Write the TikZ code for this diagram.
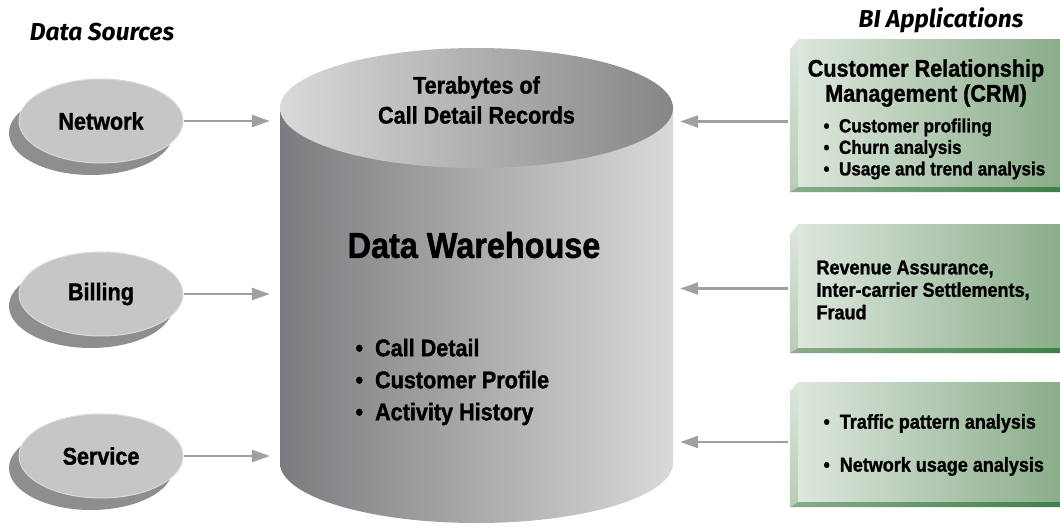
\documentclass[tikz,border=0pt]{standalone}
\usepackage{fontspec}
\setmainfont{Liberation Sans}[FakeStretch=0.9, BoldFeatures={FakeBold=1.3}]
\newfontfamily\titlefont{Fira Sans}
\usetikzlibrary{arrows.meta,positioning,calc,shapes.geometric,shadows,backgrounds}

\definecolor{srcfill}{HTML}{C6C6C6}
\definecolor{srcrim}{HTML}{DADADA}
\definecolor{srcshadow}{HTML}{8E8E8E}
\definecolor{arrowgray}{HTML}{A0A0A0}
\definecolor{cylDark}{HTML}{7C7C80}
\definecolor{cylLight}{HTML}{D9D9DB}
\definecolor{appLight}{HTML}{DDE7DD}
\definecolor{appDark}{HTML}{8AAD8A}
\definecolor{appEdge}{HTML}{3D7F48}
\definecolor{appBevel}{HTML}{B6CDB4}

% bevel and bottom edge of an application plate
\newcommand{\appframe}[1]{%
  \shade[top color=appLight, bottom color=appBevel]
    ($(#1.north west)+(-8,10)$) -- (#1.north west) -- (#1.south west) -- ($(#1.south west)+(-8,5)$) -- cycle;
  \shade[left color=appDark, right color=appEdge]
    (#1.south west) -- (#1.south east) -- ($(#1.south east)+(0,5)$) -- ($(#1.south west)+(-8,5)$) -- cycle;
}
% soft shadow behind a plate
\newcommand{\appshadow}[1]{%
  \shade[left color=white, right color=black!38]
    ($(#1.north west)+(-30,12)$) rectangle ($(#1.south west)+(-8,10)$);
  \begin{scope}
    \clip ($(#1.north west)+(-30,12)$) rectangle ($(#1.south west)+(-8,10)$);
    \foreach \d in {0,5,...,160}
      \draw[white, line width=1pt] ($(#1.north west)+(-30,14+\d)$) -- ++(22,0);
  \end{scope}
  \shade[top color=black!30, bottom color=white]
    ($(#1.south west)+(-20,5)$) rectangle ($(#1.south east)+(0,15)$);
}
\newcommand{\blt}{•\hspace{0.5em}}

\begin{document}
\begin{tikzpicture}[
  x=1pt, y=-1pt,
  src/.style={ellipse, fill=srcfill, draw=srcrim, line width=1pt, minimum width=164pt, minimum height=84pt, inner sep=0pt,
    font=\fontsize{24}{28}\selectfont\bfseries,
    drop shadow={shadow xshift=-10pt, shadow yshift=-12pt, fill=srcshadow, opacity=1}},
  appbox/.style={minimum width=264pt, inner sep=0pt, left color=appLight, right color=appDark},
  arrow/.style={-{Triangle[length=18pt,width=12pt]}, line width=2.5pt, draw=arrowgray},
  title/.style={font=\titlefont\fontsize{24.5}{28}\selectfont\bfseries\itshape},
  dwtext/.style={font=\fontsize{24}{30}\selectfont\bfseries, align=center},
  dwlist/.style={font=\fontsize{24}{32}\selectfont\bfseries, align=left, anchor=west},
  apptitle/.style={font=\fontsize{24}{25}\selectfont\bfseries, align=center},
  applist/.style={font=\fontsize{19}{21.5}\selectfont\bfseries, align=left, anchor=west}
]
\useasboundingbox (0,0) rectangle (1060,529);
\fill[white] (0,0) rectangle (1060,529);

% Titles
\node[title] (srcTitle) at (102,32) {Data Sources};
\node[title] (biTitle) at (941,20) {BI Applications};

% Data sources
\node[src] (network) at (101,121) {Network};
\node[src] (billing) at (101,294) {Billing};
\node[src] (service) at (101,456) {Service};

% Data warehouse cylinder
\shade[left color=cylDark, right color=cylLight]
  (280,108) -- (280,463) arc[start angle=180, end angle=0, x radius=196.5, y radius=60] -- (673,108) -- cycle;
\shade[left color=cylLight, right color=cylDark!92!white] (476.5,108) ellipse[x radius=196.5, y radius=60];
\node[minimum width=410pt, minimum height=475pt, inner sep=0pt] (dw) at (475,285.5) {};
\node[dwtext] (tera) at (476.5,100) {Terabytes of\\Call Detail Records};
\node[font=\fontsize{36}{40}\selectfont\bfseries] (dwName) at (474,245) {Data Warehouse};
\node[dwlist] (dwItems) at (352,382) {\blt Call Detail\\\blt Customer Profile\\\blt Activity History};

% BI applications
\node[appbox, minimum height=147pt] (crm) at (930,113.5) {};
\node[appbox, minimum height=123pt] (revenue) at (930,286.5) {};
\node[appbox, minimum height=120pt] (traffic) at (930,442) {};
\begin{pgfonlayer}{background}
  \appshadow{crm}
  \appshadow{revenue}
  \appshadow{traffic}
\end{pgfonlayer}
\appframe{crm}
\appframe{revenue}
\appframe{traffic}

\node[apptitle] (crmTitle) at (926,83) {Customer Relationship\\Management (CRM)};
\node[applist] (crmItems) at (820,149) {\blt Customer profiling\\\blt Churn analysis\\\blt Usage and trend analysis};
\node[applist, font=\fontsize{20}{22.5}\selectfont\bfseries] (revItems) at (813,290) {Revenue Assurance,\\Inter-carrier Settlements,\\Fraud};
\node[applist, font=\fontsize{20}{43}\selectfont\bfseries] (trafficItems) at (820,445) {\blt Traffic pattern analysis\\\blt Network usage analysis};

% Arrows
\draw[arrow] (network.east) -- (network.east -| dw.west);
\draw[arrow] (billing.east) -- (billing.east -| dw.west);
\draw[arrow] (service.east) -- (service.east -| dw.west);
\coordinate (crmIn) at ($(crm.west)+(-10,8)$);
\coordinate (revIn) at ($(revenue.west)+(-10,2)$);
\coordinate (trafficIn) at ($(traffic.west)+(-10,0)$);
\draw[arrow] (crmIn) -- (crmIn -| dw.east);
\draw[arrow] (revIn) -- (revIn -| dw.east);
\draw[arrow] (trafficIn) -- (trafficIn -| dw.east);

\end{tikzpicture}
\end{document}
